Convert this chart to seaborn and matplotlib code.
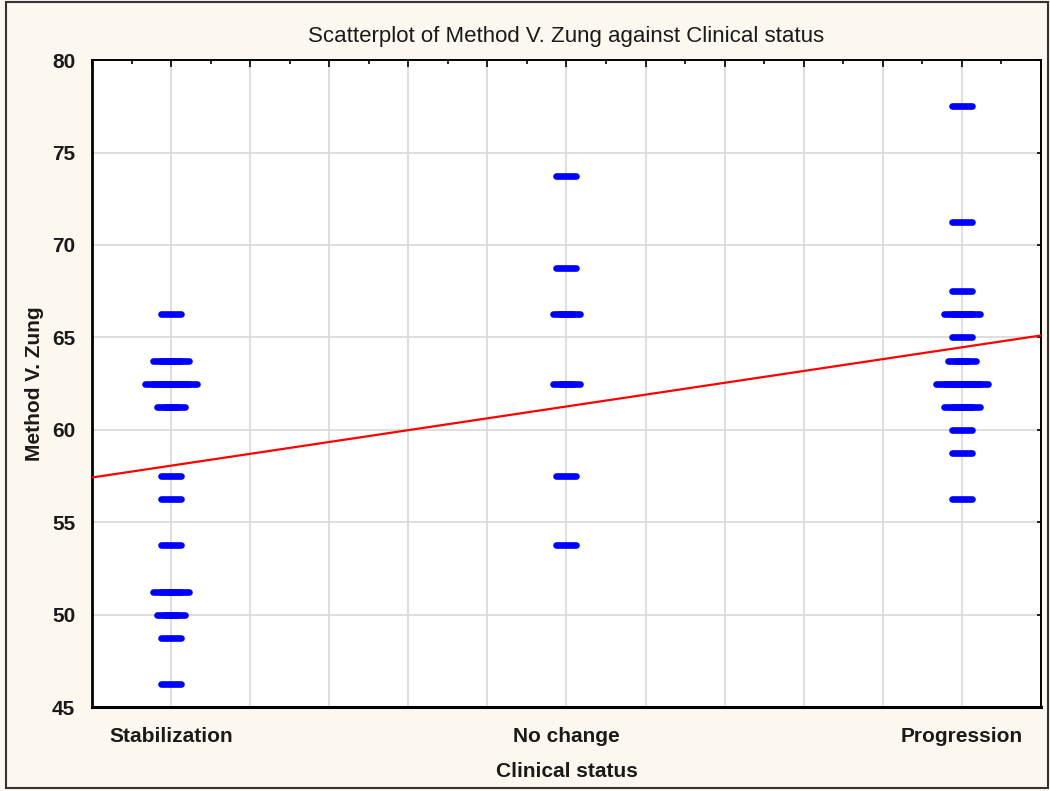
import numpy as np
import pandas as pd
import matplotlib
matplotlib.use("Agg")
import matplotlib.pyplot as plt
from matplotlib.ticker import MultipleLocator, FuncFormatter
from matplotlib.patches import Rectangle
import seaborn as sns

# Dados (escores Zung em passos de 1.25)
categories = ["Stabilization", "No change", "Progression"]
cat_positions = [1, 2, 3]

stab_scores = [66.25, 63.75, 62.5, 61.25, 57.5, 56.25, 53.75, 51.25, 50.0, 48.75, 46.25]
stab_counts = [1, 3, 5, 2, 1, 1, 1, 3, 2, 1, 1]

nochange_scores = [73.75, 68.75, 66.25, 62.5, 57.5, 53.75]
nochange_counts = [1, 1, 2, 2, 1, 1]

prog_scores = [77.5, 71.25, 67.5, 66.25, 65.0, 63.75, 62.5, 61.25, 60.0, 58.75, 56.25]
prog_counts = [1, 1, 1, 3, 1, 2, 5, 3, 1, 1, 1]

# Montar a tabela longa: pontos repetidos ficam levemente deslocados em x
rows = []
groups = [(stab_scores, stab_counts), (nochange_scores, nochange_counts), (prog_scores, prog_counts)]
for pos, (scores, counts) in zip(cat_positions, groups):
    for s, n in zip(scores, counts):
        for i in range(n):
            rows.append({"pos": pos, "x": pos + (i - (n - 1) / 2) * 0.02, "y": s})
df = pd.DataFrame(rows)

sns.set_style("white")
plt.rcParams["font.family"] = ["Liberation Sans Narrow", "Liberation Sans", "DejaVu Sans"]

fig = plt.figure(figsize=(10.5, 7.91), dpi=100, facecolor="#fdf8ef")
ax = fig.add_axes([0.0876, 0.106, 0.9038, 0.818])
ax.set_facecolor("white")

ax.set_xlim(0.8, 3.2)
ax.set_ylim(45, 80)

sns.scatterplot(data=df, x="x", y="y", marker="_", s=190, color="#0000ff",
                linewidth=4.8, ax=ax, zorder=3)
for coll in ax.collections:
    coll.set_capstyle("round")

sns.regplot(data=df, x="pos", y="y", scatter=False, ci=None, truncate=False,
            color="#ff0000", line_kws={"linewidth": 1.6, "zorder": 4}, ax=ax)

ax.set_xlim(0.8, 3.2)
ax.set_ylim(45, 80)

ax.xaxis.set_major_locator(MultipleLocator(0.2))
ax.xaxis.set_minor_locator(MultipleLocator(0.1))
ax.yaxis.set_major_locator(MultipleLocator(5))

def cat_label(v, p):
    for pos, name in zip(cat_positions, categories):
        if abs(v - pos) < 1e-6:
            return name
    return ""

ax.xaxis.set_major_formatter(FuncFormatter(cat_label))
ax.grid(True, which="major", color="#d8d8d8", linewidth=1.2)
ax.set_axisbelow(True)

ax.tick_params(axis="both", which="both", direction="in", top=True, right=True,
               color="black", width=1.2)
ax.tick_params(axis="x", which="major", length=5, pad=14, labelsize=15)
ax.tick_params(axis="x", which="minor", length=3)
ax.tick_params(axis="y", which="major", length=3, pad=12, labelsize=15)
for lab in ax.get_xticklabels() + ax.get_yticklabels():
    lab.set_fontweight("bold")
    lab.set_color("#1a1a1a")

for side in ["left", "bottom", "top", "right"]:
    ax.spines[side].set_visible(True)
    ax.spines[side].set_color("black")
ax.spines["left"].set_linewidth(2)
ax.spines["bottom"].set_linewidth(2.2)
ax.spines["top"].set_linewidth(1.4)
ax.spines["right"].set_linewidth(1.4)

ax.set_xlabel("Clinical status", fontsize=15, fontweight="bold", color="#1a1a1a", labelpad=12)
ax.set_ylabel("Method V. Zung", fontsize=15, fontweight="bold", color="#1a1a1a", labelpad=6)
ax.set_title("Scatterplot of Method V. Zung against Clinical status", fontsize=16,
             color="#1a1a1a", pad=13)

# moldura externa
fig.patches.append(Rectangle((0.006, 0.004), 0.992, 0.993, transform=fig.transFigure,
                             fill=False, edgecolor="#333333", linewidth=1.5))

fig.savefig("out.png", dpi=100, facecolor=fig.get_facecolor())
